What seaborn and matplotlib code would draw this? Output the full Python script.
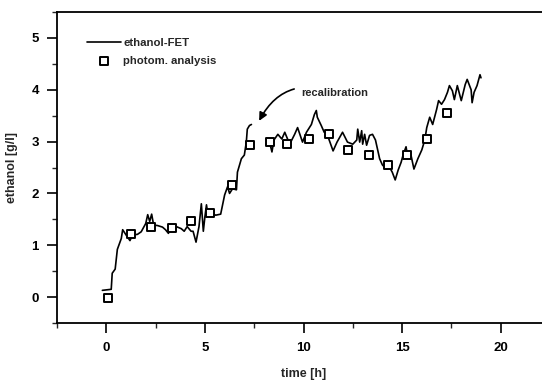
import matplotlib
matplotlib.use("Agg")
import matplotlib.pyplot as plt
import seaborn as sns
import pandas as pd
from matplotlib.ticker import MultipleLocator

# FET signal before recalibration
t_fet1 = [-0.2, 0.25, 0.3, 0.45, 0.56, 0.76, 0.83, 1.0, 1.2, 1.33,
          1.58, 1.77, 2.0, 2.1, 2.2, 2.3, 2.4, 2.6, 2.85, 3.0,
          3.15, 3.25, 3.55, 3.8, 3.95, 4.1, 4.3, 4.4, 4.55, 4.7,
          4.82, 4.92, 5.0, 5.08, 5.15, 5.3, 5.55, 5.8, 6.0, 6.15,
          6.25, 6.4, 6.6, 6.65, 6.85, 7.0, 7.1, 7.15, 7.26, 7.36]
y_fet1 = [0.13, 0.15, 0.46, 0.54, 0.92, 1.13, 1.3, 1.2, 1.09, 1.2,
          1.21, 1.26, 1.42, 1.59, 1.46, 1.6, 1.39, 1.38, 1.35, 1.3,
          1.23, 1.33, 1.36, 1.32, 1.27, 1.36, 1.27, 1.27, 1.06, 1.36,
          1.8, 1.27, 1.55, 1.78, 1.6, 1.62, 1.58, 1.6, 1.97, 2.13,
          2.0, 2.09, 2.07, 2.41, 2.67, 2.74, 2.99, 3.24, 3.31, 3.33]

# FET signal after recalibration
t_fet2 = [8.1, 8.27, 8.4, 8.5, 8.7, 8.9, 9.05, 9.3, 9.55, 9.7,
          9.95, 10.15, 10.4, 10.55, 10.65, 10.7, 10.9, 11.05, 11.2, 11.5,
          11.7, 11.98, 12.23, 12.5, 12.7, 12.75, 12.85, 12.95, 13.0, 13.1,
          13.2, 13.35, 13.5, 13.65, 13.86, 14.0, 14.2, 14.37, 14.5, 14.65,
          14.8, 14.95, 15.05, 15.2, 15.3, 15.45, 15.6, 15.8, 16.0, 16.15,
          16.25, 16.4, 16.55, 16.75, 16.85, 17.0, 17.15, 17.3, 17.4, 17.55,
          17.65, 17.8, 18.0, 18.2, 18.3, 18.5, 18.55, 18.65, 18.8, 18.95,
          19.0]
y_fet2 = [2.95, 3.0, 2.8, 3.03, 3.14, 3.05, 3.18, 2.95, 3.14, 3.27,
          2.99, 3.18, 3.33, 3.52, 3.6, 3.47, 3.31, 3.18, 3.14, 2.82,
          2.99, 3.18, 2.99, 2.95, 3.03, 3.24, 2.99, 3.21, 2.95, 3.14,
          2.93, 3.12, 3.14, 3.03, 2.67, 2.55, 2.47, 2.5, 2.41, 2.26,
          2.45, 2.6, 2.74, 2.9, 2.67, 2.74, 2.47, 2.67, 2.84, 3.03,
          3.27, 3.47, 3.33, 3.62, 3.79, 3.72, 3.81, 3.95, 4.08, 3.98,
          3.81, 4.08, 3.79, 4.1, 4.2, 4.0, 3.75, 3.95, 4.08, 4.29,
          4.23]

# photometric analysis
t_photo = [0.1, 1.27, 2.28, 3.35, 4.3, 5.28, 6.35, 7.3, 8.3, 9.15,
           10.3, 11.27, 12.28, 13.3, 14.26, 15.23, 16.24, 17.3]
y_photo = [-0.02, 1.22, 1.36, 1.34, 1.46, 1.62, 2.16, 2.93, 2.99, 2.95,
           3.05, 3.14, 2.84, 2.74, 2.55, 2.74, 3.05, 3.55]

x_ticks = [0, 5, 10, 15, 20]
y_ticks = [0, 1, 2, 3, 4, 5]

sns.set_style("ticks")
plt.rcParams["font.family"] = ["Liberation Sans", "DejaVu Sans"]
plt.rcParams["font.weight"] = "bold"

fig = plt.figure(figsize=(5.42, 3.8), dpi=100)
ax = fig.add_axes([57 / 542, 1 - 323 / 380, 493 / 542, 311 / 380])

df1 = pd.DataFrame({"t": t_fet1, "y": y_fet1})
df2 = pd.DataFrame({"t": t_fet2, "y": y_fet2})
dfp = pd.DataFrame({"t": t_photo, "y": y_photo})

sns.lineplot(data=df1, x="t", y="y", ax=ax, color="black", lw=1.2,
             sort=False, label="ethanol-FET")
sns.lineplot(data=df2, x="t", y="y", ax=ax, color="black", lw=1.2,
             sort=False)
sns.scatterplot(data=dfp, x="t", y="y", ax=ax, marker="s", s=30,
                facecolor="white", edgecolor="black", linewidth=1.4,
                label="photom. analysis", zorder=3)

ax.set_xlim(-2.5, 22.5)
ax.set_ylim(-0.5, 5.5)
ax.set_xticks(x_ticks)
ax.set_yticks(y_ticks)
ax.xaxis.set_minor_locator(MultipleLocator(2.5))
ax.yaxis.set_minor_locator(MultipleLocator(0.5))
ax.tick_params(which="major", direction="out", length=7, width=1.2,
               labelsize=9.5, colors="black")
ax.tick_params(which="minor", direction="out", length=3.5, width=1.0)
for lab in ax.get_xticklabels() + ax.get_yticklabels():
    lab.set_fontweight("bold")
ax.tick_params(axis="x", pad=7)
ax.tick_params(axis="y", pad=6)

for s in ["left", "bottom", "top"]:
    ax.spines[s].set_visible(True)
    ax.spines[s].set_linewidth(1.3)
    ax.spines[s].set_color("black")
ax.spines["right"].set_visible(False)

ax.set_xlabel("time [h]", fontsize=9, fontweight="bold", labelpad=10)
ax.set_ylabel("ethanol [g/l]", fontsize=9, fontweight="bold", labelpad=10)

ax.annotate("recalibration", xy=(7.75, 3.4), xytext=(9.9, 3.93),
            fontsize=8, fontweight="bold", va="center", ha="left",
            arrowprops=dict(arrowstyle="-|>", color="black", lw=1.2,
                            mutation_scale=12,
                            connectionstyle="arc3,rad=0.45",
                            shrinkA=3, shrinkB=0))

leg = ax.legend(loc="upper left", bbox_to_anchor=(0.049, 0.935),
                frameon=False, fontsize=8.2, handlelength=3.0,
                handletextpad=0.2, borderpad=0, labelspacing=0.75)
for txt in leg.get_texts():
    txt.set_fontweight("bold")

fig.savefig("out.png", dpi=100)
